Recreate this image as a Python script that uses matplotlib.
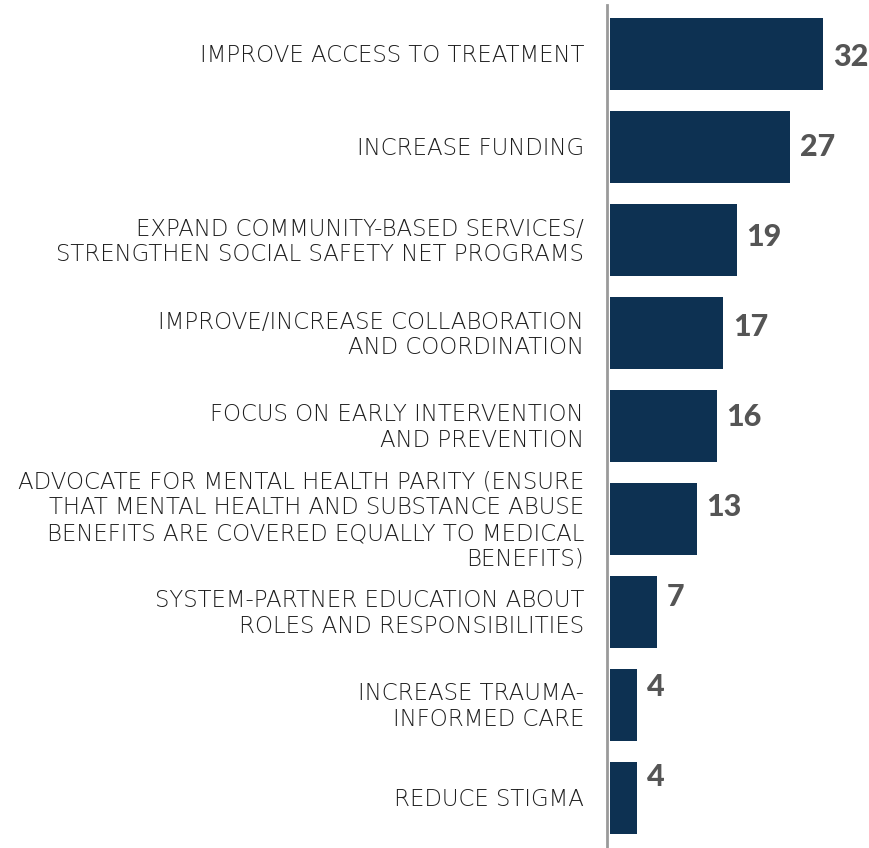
import matplotlib.pyplot as plt
import numpy as np

labels = [
    "IMPROVE ACCESS TO TREATMENT",
    "INCREASE FUNDING",
    "EXPAND COMMUNITY-BASED SERVICES/\nSTRENGTHEN SOCIAL SAFETY NET PROGRAMS",
    "IMPROVE/INCREASE COLLABORATION\nAND COORDINATION",
    "FOCUS ON EARLY INTERVENTION\nAND PREVENTION",
    "ADVOCATE FOR MENTAL HEALTH PARITY (ENSURE\nTHAT MENTAL HEALTH AND SUBSTANCE ABUSE\nBENEFITS ARE COVERED EQUALLY TO MEDICAL\nBENEFITS)",
    "SYSTEM-PARTNER EDUCATION ABOUT\nROLES AND RESPONSIBILITIES",
    "INCREASE TRAUMA-\nINFORMED CARE",
    "REDUCE STIGMA",
]
values = [32, 27, 19, 17, 16, 13, 7, 4, 4]

bar_color = "#0d3152"
label_color = "#1e1e1e"
value_color = "#555555"

fig = plt.figure(figsize=(8.69, 8.48), dpi=100)
ax = fig.add_axes([610 / 869, 0, 253 / 869, 843 / 848])

y = np.arange(len(values))
ax.barh(y, values, height=0.774, color=bar_color)
ax.set_xlim(0, 38)
ax.set_ylim(8.538, -0.527)

for s in ["top", "right", "bottom"]:
    ax.spines[s].set_visible(False)
ax.spines["left"].set_color("#9a9a9a")
ax.spines["left"].set_linewidth(2)
ax.spines["left"].set_position(("outward", 2))
ax.set_xticks([])
ax.set_yticks([])

for i, (lab, v) in enumerate(zip(labels, values)):
    ax.text(-26 / 253, i + 0.02, lab, transform=ax.get_yaxis_transform(),
            ha="right", va="center", fontsize=16.5, color=label_color,
            family="DejaVu Sans", fontweight="light", linespacing=1.15)
    ax.annotate(str(v), (v, i + (3 - 3 * i) / 93), xytext=(10, 0),
                textcoords="offset pixels", ha="left", va="center",
                fontsize=22, fontweight="black", family="Lato",
                color=value_color)

fig.savefig("out.png", dpi=100)
